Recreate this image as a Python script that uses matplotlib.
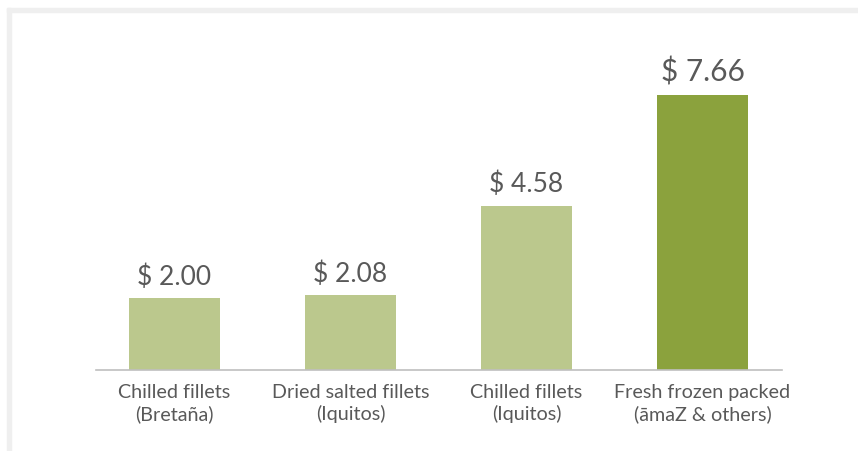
import matplotlib.pyplot as plt
from matplotlib.patches import Rectangle

# categories and prices (USD/kg)
categories = ["Chilled fillets\n(Bretaña)", "Dried salted fillets\n(Iquitos)",
              "Chilled fillets\n(Iquitos)", "Fresh frozen packed\n(āmaZ & others)"]
prices = [2.00, 2.08, 4.58, 7.66]
bar_colors = ["#BBC88D", "#BBC88D", "#BBC88D", "#8BA23D"]

plt.rcParams['font.family'] = ['Lato', 'DejaVu Sans']

fig = plt.figure(figsize=(8.58, 4.51), dpi=100)

# light gray frame on top and left edge
fig.patches.append(Rectangle((7/858, 0), 4/858, 1 - 8/451, transform=fig.transFigure,
                             color="#EFEFEF", zorder=0))
fig.patches.append(Rectangle((7/858, 1 - 12/451), 1, 4/451, transform=fig.transFigure,
                             color="#EFEFEF", zorder=0))

ax = fig.add_axes([96/858, 81/451, 686/858, 330/451])
x = range(len(categories))
bars = ax.bar(x, prices, width=0.517, color=bar_colors)

for i, (b, p) in enumerate(zip(bars, prices)):
    size = 21.5 if i == len(prices) - 1 else 19
    ax.annotate(f"$ {p:.2f}", (b.get_x() + b.get_width() / 2, p),
                xytext=(0, 6), textcoords="offset points",
                ha="center", va="bottom", fontsize=size, color="#595959")

ax.set_xlim(-0.446, 3.452)
ax.set_ylim(0, 9.19)
ax.set_xticks(list(x))
ax.set_xticklabels(categories, fontsize=14.2, color="#595959", linespacing=1.3)
ax.tick_params(axis="x", length=0, pad=10)
ax.set_yticks([])
for s in ["top", "right", "left"]:
    ax.spines[s].set_visible(False)
ax.spines["bottom"].set_color("#BFBFBF")
ax.spines["bottom"].set_linewidth(1.2)

fig.savefig("out.png", dpi=100)
